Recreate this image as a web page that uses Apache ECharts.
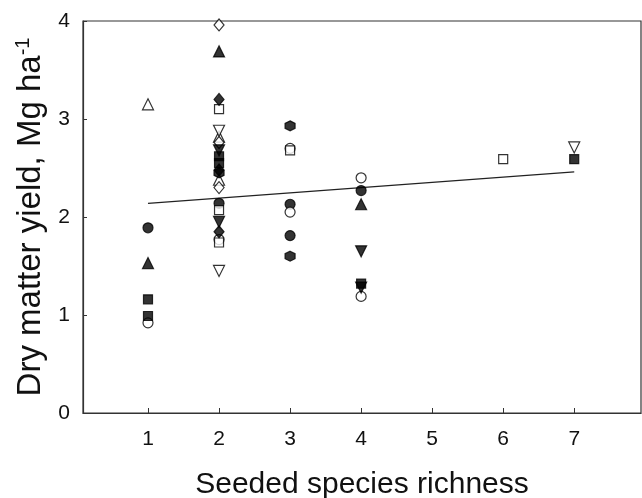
<!DOCTYPE html>
<html>
<head>
<meta charset="utf-8">
<script src="https://cdn.jsdelivr.net/npm/echarts@6/dist/echarts.min.js"></script>
<style>html,body{margin:0;padding:0;background:#fff}#c{width:642px;height:498px}</style>
</head>
<body>
<div id="c"></div>
<script>
// x tick labels
var xTicks = [1, 2, 3, 4, 5, 6, 7];
var yTicks = [0, 1, 2, 3, 4];
// series values [richness, yield]
var filledCircle = [[1,1.89],[3,2.13],[3,1.81],[4,2.27],[2,2.14]];
var openCircle = [[1,0.92],[3,2.05],[4,2.40],[4,1.19],[3,2.70],[2,1.77]];
var filledTriangle = [[1,1.53],[2,3.69],[4,2.13]];
var openTriangle = [[1,3.15],[2,2.82],[2,2.38]];
var filledSquare = [[1,1.16],[1,0.99],[7,2.59],[4,1.32],[2,2.62],[2,2.55]];
var openSquare = [[2,3.10],[2,2.07],[2,1.74],[3,2.68],[6,2.59]];
var filledDiamond = [[2,3.20],[2,1.85],[2,2.48]];
var openDiamond = [[2,3.96],[2,2.76],[2,2.30]];
var filledInvTriangle = [[2,1.95],[4,1.65],[4,1.28],[2,2.68]];
var openInvTriangle = [[2,1.45],[2,2.88],[7,2.71]];
var filledHexagon = [[3,2.93],[3,1.60],[2,2.45]];
var regression = [[1,2.14],[7,2.46]];

var hex = 'path://M0,-10L8.66,-5L8.66,5L0,10L-8.66,5L-8.66,-5Z';
function sc(name, data, symbol, filled, size, rot) {
  return {
    name: name, type: 'scatter', data: data, symbol: symbol,
    symbolSize: size, symbolRotate: rot || 0, z: 3,
    itemStyle: { color: filled ? '#000' : '#fff', borderColor: '#000', borderWidth: 1.2 }
  };
}
var chart = echarts.init(document.getElementById('c'));
chart.setOption({
  animation: false,
  backgroundColor: '#fff',
  textStyle: { fontFamily: 'Liberation Sans, Arial, sans-serif' },
  grid: { left: 83, right: 1, top: 21, bottom: 85, show: true, borderColor: '#333', borderWidth: 1.2,
    backgroundColor: 'transparent', containLabel: false, outerBoundsMode: 'none' },
  xAxis: {
    type: 'value', min: 0.085, max: 7.94,
    name: 'Seeded species richness', nameLocation: 'middle', nameGap: 57,
    nameTextStyle: { fontSize: 30, color: '#111', fontFamily: 'Liberation Sans' },
    axisLine: { onZero: false, lineStyle: { color: '#333', width: 1.2 } },
    axisTick: { inside: true, length: 5, customValues: xTicks, lineStyle: { color: '#333' } },
    axisLabel: { customValues: xTicks, fontSize: 21, color: '#111', margin: 16, fontFamily: 'Liberation Sans' },
    splitLine: { show: false }
  },
  yAxis: {
    type: 'value', min: 0, max: 4, interval: 1,
    name: 'Dry matter yield, Mg ha{sup|-1}', nameLocation: 'middle', nameGap: 29,
    nameTextStyle: { fontSize: 33, color: '#111', fontFamily: 'Liberation Sans',
      rich: { sup: { fontSize: 20, verticalAlign: 'top', color: '#111', fontFamily: 'Liberation Sans', padding: [0,0,14,0] } } },
    axisLine: { show: true, lineStyle: { color: '#333', width: 1.2 } },
    axisTick: { show: true, inside: true, length: 4, lineStyle: { color: '#333' } },
    axisLabel: { fontSize: 21, color: '#111', margin: 13, fontFamily: 'Liberation Sans' },
    splitLine: { show: false }
  },
  series: [
    { type: 'line', data: regression, symbol: 'none', z: 2,
      lineStyle: { color: '#222', width: 1.3 } },
    sc('filledCircle', filledCircle, 'circle', true, 10),
    sc('openCircle', openCircle, 'circle', false, 10),
    sc('filledTriangle', filledTriangle, 'triangle', true, 11),
    sc('openTriangle', openTriangle, 'triangle', false, 11),
    sc('filledSquare', filledSquare, 'rect', true, 9),
    sc('openSquare', openSquare, 'rect', false, 9),
    sc('filledDiamond', filledDiamond, 'diamond', true, [10, 12]),
    sc('openDiamond', openDiamond, 'diamond', false, [10, 12]),
    sc('filledInvTriangle', filledInvTriangle, 'triangle', true, 11, 180),
    sc('openInvTriangle', openInvTriangle, 'triangle', false, 11, 180),
    sc('filledHexagon', filledHexagon, hex, true, 10)
  ]
});
</script>
</body>
</html>
